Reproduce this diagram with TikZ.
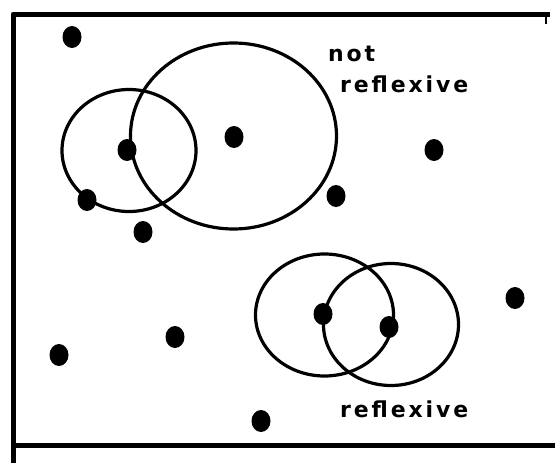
\documentclass[tikz,border=0pt]{standalone}
\usepackage{fontspec}
\newfontfamily\handfont[LetterSpace=13]{DejaVu Sans Bold}
\usetikzlibrary{shapes.geometric}

\begin{document}
\begin{tikzpicture}[
  x=1pt, y=-1pt,
  dot/.style={ellipse, fill=black, inner sep=0pt, minimum width=19pt, minimum height=22pt},
  ring/.style={line width=3.2pt},
  frame/.style={line width=5pt, line join=round},
  lbl/.style={font=\handfont\fontsize{22}{24}\selectfont, inner sep=0pt, anchor=base west}
]
  \useasboundingbox (0,0) rectangle (555,463);

  \coordinate (tl) at (13,14);
  \coordinate (tr) at (550,14);
  \coordinate (bl) at (13,463);
  \coordinate (bm) at (13,445);
  \coordinate (br) at (555,445);
  \coordinate (tk1) at (546,16);
  \coordinate (tk2) at (546,24);

  \draw[frame] (tr) -- (tl) -- (bl);
  \draw[frame] (bm) -- (br);
  \draw[line width=1.5pt] (tk1) -- (tk2);

  \node[dot] (d1) at (72,37) {};
  \node[dot] (d2) at (127,150) {};
  \node[dot] (d3) at (234,137) {};
  \node[dot] (d4) at (434,150) {};
  \node[dot] (d5) at (87,200) {};
  \node[dot] (d6) at (336,196) {};
  \node[dot] (d7) at (143,232) {};
  \node[dot] (d8) at (515,298) {};
  \node[dot] (d9) at (323,314) {};
  \node[dot] (d10) at (389,327) {};
  \node[dot] (d11) at (175,337) {};
  \node[dot] (d12) at (59,355) {};
  \node[dot] (d13) at (261,421) {};

  \draw[ring] (129,150.5) ellipse [x radius=67, y radius=61];
  \draw[ring] (233.5,136) ellipse [x radius=103, y radius=93];
  \draw[ring] (324.5,315) ellipse [x radius=69, y radius=61];
  \draw[ring] (391,324.5) ellipse [x radius=67.5, y radius=61];

  \node[lbl] (nt) at (328,61) {not};
  \node[lbl] (nr) at (340,92) {reflexive};
  \node[lbl] (rf) at (340,417) {reflexive};
\end{tikzpicture}
\end{document}
